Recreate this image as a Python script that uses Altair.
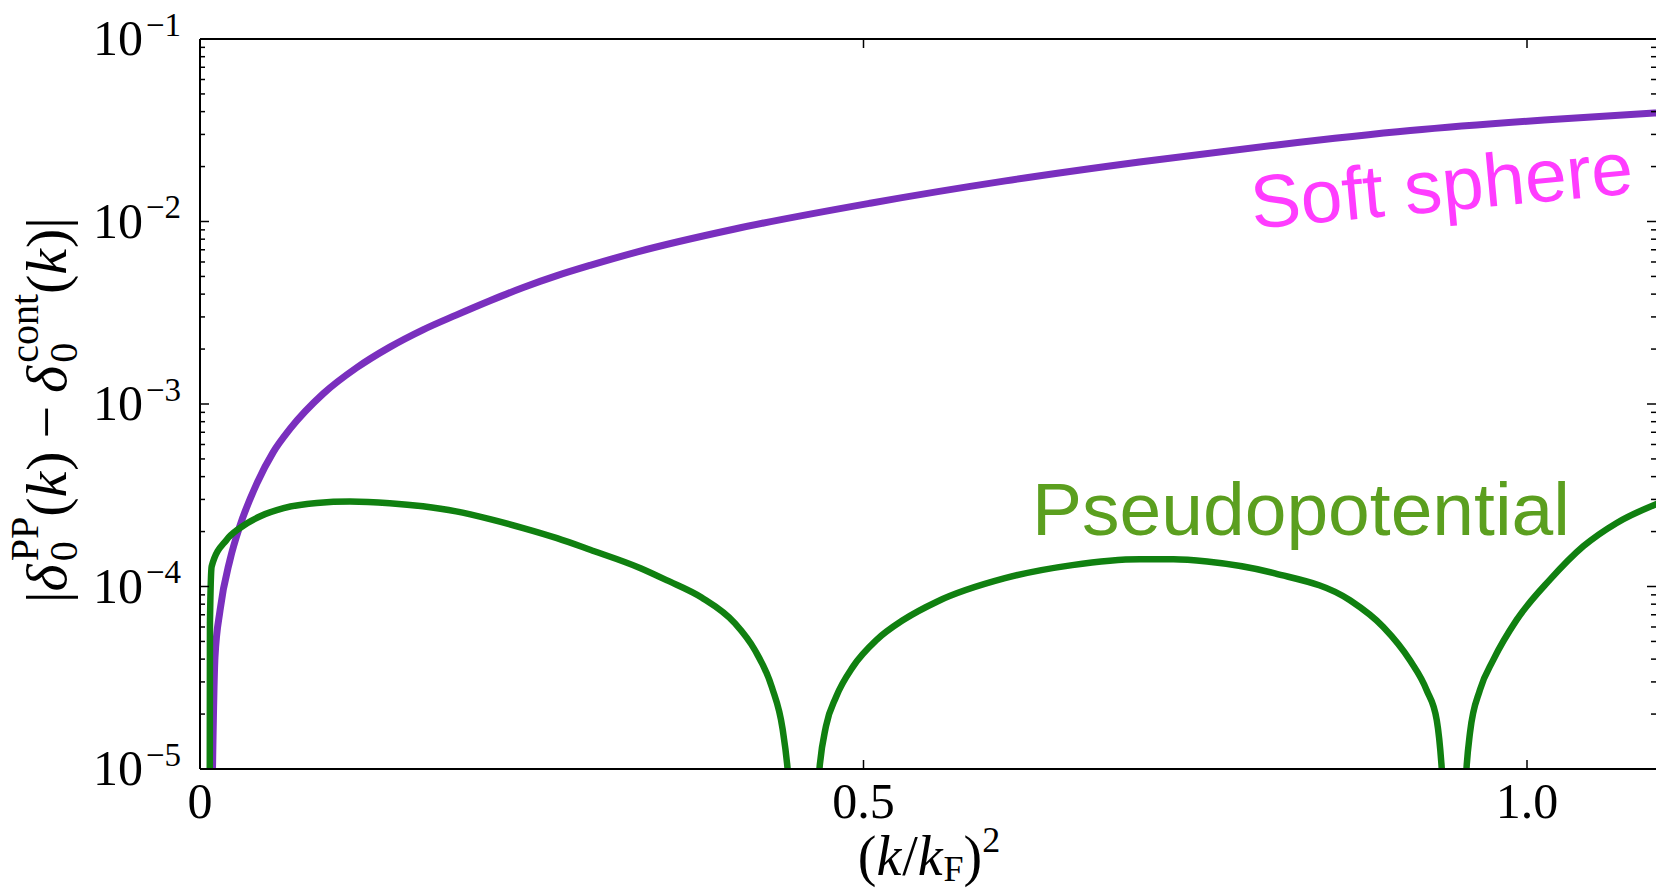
import altair as alt
import pandas as pd

# |delta_0^PP(k) - delta_0^cont(k)| versus (k/k_F)^2

# Soft-sphere curve
soft_x = [0.0080, 0.0113, 0.0151, 0.0226, 0.0301, 0.0427, 0.0552, 0.0678, 0.0929,
          0.118, 0.143, 0.168, 0.193, 0.2185, 0.2436, 0.269, 0.294, 0.329, 0.403,
          0.505, 0.607, 0.708, 0.810, 0.912, 1.013, 1.099]
soft_y = [2.0e-6, 4.1e-5, 7.4e-5, 1.40e-4, 2.15e-4, 3.65e-4, 5.45e-4, 7.3e-4, 1.14e-3,
          1.58e-3, 2.05e-3, 2.55e-3, 3.07e-3, 3.68e-3, 4.35e-3, 5.05e-3, 5.75e-3, 6.8e-3,
          9.1e-3, 1.26e-2, 1.67e-2, 2.12e-2, 2.62e-2, 3.15e-2, 3.60e-2, 3.94e-2]

# Pseudopotential curve (dips to ~0 near the sign changes)
pseudo_x = [0.0072, 0.0075, 0.0088, 0.020, 0.030, 0.045, 0.063, 0.088, 0.113, 0.143,
            0.168, 0.193, 0.2185, 0.2436, 0.269, 0.294, 0.332, 0.352, 0.378, 0.403,
            0.418, 0.431, 0.439, 0.4428, 0.455, 0.4668, 0.4717, 0.4794, 0.4921, 0.5099,
            0.5302, 0.5557, 0.6066, 0.6573, 0.7082, 0.7336, 0.759, 0.810, 0.8666, 0.8917,
            0.9118, 0.9244, 0.9320, 0.9357, 0.946, 0.9545, 0.957, 0.9646, 0.9746, 0.9922,
            1.0173, 1.0424, 1.0676, 1.099]
pseudo_y = [1e-6, 6.3e-5, 1.29e-4, 1.80e-4, 2.09e-4, 2.42e-4, 2.69e-4, 2.87e-4, 2.92e-4, 2.86e-4,
            2.75e-4, 2.58e-4, 2.34e-4, 2.09e-4, 1.84e-4, 1.59e-4, 1.26e-4, 1.08e-4, 8.7e-5, 6.3e-5,
            4.5e-5, 2.8e-5, 1.66e-5, 1.0e-5, 1e-7, 1.0e-5, 1.71e-5, 2.49e-5, 3.64e-5, 5.10e-5,
            6.57e-5, 8.28e-5, 1.11e-4, 1.31e-4, 1.41e-4, 1.41e-4, 1.37e-4, 1.18e-4, 8.4e-5, 6.0e-5,
            3.94e-5, 2.70e-5, 1.85e-5, 1.02e-5, 1e-7, 1.03e-5, 1.57e-5, 2.72e-5, 3.96e-5, 6.56e-5,
            1.09e-4, 1.66e-4, 2.23e-4, 2.86e-4]

# Axes
x_ticks = [0.0, 0.5, 1.0]
x_tick_labels = ["0", "0.5", "1.0"]
y_decades = [1e-5, 1e-4, 1e-3, 1e-2, 1e-1]
y_exponents = ["\u22125", "\u22124", "\u22123", "\u22122", "\u22121"]
y_minor = [m * 10.0 ** e for e in range(-5, -1) for m in range(2, 10)]

# Curve labels
labels = [
    {"x": 0.7935, "y": 9.14e-3, "text": "Soft sphere", "color": "#FF3CFF", "angle": 354.7},
    {"x": 0.627, "y": 1.92e-4, "text": "Pseudopotential", "color": "#5B9F1F", "angle": 0},
]

PURPLE = "#7A2FBE"
GREEN = "#108010"
SERIF = "Liberation Serif"
SANS = "Liberation Sans"

W, H = 1456, 730
PX_PER_UNIT = 1327.0
X_MAX = W / PX_PER_UNIT

xs = alt.Scale(domain=[0, X_MAX], nice=False, zero=False)
ys = alt.Scale(type="log", domain=[1e-5, 1e-1], nice=False)


def X(field):
    return alt.X(field, type="quantitative", scale=xs, axis=None)


def Y(field):
    return alt.Y(field, type="quantitative", scale=ys, axis=None)


soft_df = pd.DataFrame({"x": soft_x, "y": soft_y})
pseudo_df = pd.DataFrame({"x": pseudo_x, "y": pseudo_y})

soft = alt.Chart(soft_df).mark_line(
    color=PURPLE, strokeWidth=7, clip=True, interpolate="monotone"
).encode(x=X("x"), y=Y("y"), order="x:Q")
pseudo = alt.Chart(pseudo_df).mark_line(
    color=GREEN, strokeWidth=6.5, clip=True, interpolate="monotone"
).encode(x=X("x"), y=Y("y"), order="x:Q")

# Frame (left, top, bottom)
one = alt.Data(values=[{}])
frame = [
    alt.Chart(one).mark_rule(color="black", strokeWidth=2).encode(
        x=alt.value(0), y=alt.value(0), y2=alt.value(H)),
    alt.Chart(one).mark_rule(color="black", strokeWidth=2).encode(
        x=alt.value(0), x2=alt.value(W), y=alt.value(0)),
    alt.Chart(one).mark_rule(color="black", strokeWidth=2).encode(
        x=alt.value(0), x2=alt.value(W), y=alt.value(H)),
]

# Inward ticks
dec_df = pd.DataFrame({"v": y_decades, "e": y_exponents})
minor_df = pd.DataFrame({"v": y_minor})
xt_df = pd.DataFrame({"t": x_ticks, "lab": x_tick_labels})

ticks = [
    alt.Chart(dec_df).mark_rule(color="black", strokeWidth=1.5).encode(
        y=Y("v"), x=alt.value(0), x2=alt.value(9)),
    alt.Chart(dec_df).mark_rule(color="black", strokeWidth=1.5).encode(
        y=Y("v"), x=alt.value(W - 9), x2=alt.value(W)),
    alt.Chart(minor_df).mark_rule(color="black", strokeWidth=1.5).encode(
        y=Y("v"), x=alt.value(0), x2=alt.value(5)),
    alt.Chart(minor_df).mark_rule(color="black", strokeWidth=1.5).encode(
        y=Y("v"), x=alt.value(W - 5), x2=alt.value(W)),
    alt.Chart(xt_df).mark_rule(color="black", strokeWidth=1.5).encode(
        x=X("t"), y=alt.value(H - 9), y2=alt.value(H)),
    alt.Chart(xt_df).mark_rule(color="black", strokeWidth=1.5).encode(
        x=X("t"), y=alt.value(0), y2=alt.value(9)),
]

# Tick labels
tick_labels = [
    alt.Chart(dec_df).mark_text(text="10", font=SERIF, fontSize=50, align="right",
                                baseline="alphabetic", dy=16, color="black").encode(
        y=Y("v"), x=alt.value(-57)),
    alt.Chart(dec_df).mark_text(font=SERIF, fontSize=33, align="left",
                                baseline="alphabetic", dy=-3.5, color="black").encode(
        y=Y("v"), x=alt.value(-54), text="e:N"),
    alt.Chart(xt_df).mark_text(font=SERIF, fontSize=50, align="center",
                               baseline="alphabetic", color="black").encode(
        x=X("t"), y=alt.value(779), text="lab:N"),
]


def piece(txt, x, y, size, italic=False, angle=0):
    mark = dict(text=txt, font=SERIF, fontSize=size, align="left",
                baseline="alphabetic", color="black",
                fontStyle="italic" if italic else "normal")
    if angle:
        mark["angle"] = angle
    return alt.Chart(one).mark_text(**mark).encode(x=alt.value(x), y=alt.value(y))


# Y title: |delta_0^PP(k) - delta_0^cont(k)|, reading bottom to top
F, f = 58, 40
SUB, SUP = 11, -28
base_x, start_y = -134, 564
seq = [
    ("|", F, False, 0, 0.20 * F),
    ("\u03b4", F, True, 0, 0.52 * F),
    ("PP", f, False, SUP, 0),
    ("0", f, False, SUB, 1.112 * f),
    ("(", F, False, 0, 0.333 * F),
    ("k", F, True, 0, 0.46 * F),
    (")", F, False, 0, 0.333 * F + 0.222 * F),
    ("\u2212", F, False, 0, 0.564 * F + 0.222 * F),
    ("\u03b4", F, True, 0, 0.52 * F),
    ("cont", f, False, SUP, 0),
    ("0", f, False, SUB, 1.722 * f),
    ("(", F, False, 0, 0.333 * F),
    ("k", F, True, 0, 0.46 * F),
    (")", F, False, 0, 0.333 * F),
    ("|", F, False, 0, 0.20 * F),
]
y_title = []
s = 0.0
for txt, size, ital, shift, adv in seq:
    y_title.append(piece(txt, base_x + shift, start_y - s, size, ital, angle=270))
    s += adv

# X title: (k/k_F)^2
G, g = 56, 36
xseq = [
    ("(", G, False, 0, 0.333 * G),
    ("k", G, True, 0, 0.46 * G),
    ("/", G, False, 0, 0.278 * G),
    ("k", G, True, 0, 0.46 * G),
    ("F", g, False, 6, 0.556 * g),
    (")", G, False, 0, 0.333 * G),
    ("2", g, False, -23, 0.5 * g),
]
total = sum(a for *_, a in xseq)
cx = 729 - total / 2
x_title = []
for txt, size, ital, shift, adv in xseq:
    x_title.append(piece(txt, cx, 836 + shift, size, ital))
    cx += adv

# Curve labels
lab_layers = []
for lab in labels:
    mark = dict(text=lab["text"], font=SANS, fontSize=75, align="left",
                baseline="alphabetic", color=lab["color"])
    if lab["angle"]:
        mark["angle"] = lab["angle"]
    lab_layers.append(
        alt.Chart(pd.DataFrame([lab])).mark_text(**mark).encode(x=X("x"), y=Y("y")))

chart = alt.layer(
    soft, pseudo, *frame, *ticks, *tick_labels, *y_title, *x_title, *lab_layers
).properties(
    width=W, height=H,
    padding={"left": 200, "top": 39, "right": 0, "bottom": 119},
    autosize=alt.AutoSizeParams(type="none"),
    background="white",
).configure_view(stroke=None)

chart.save("out.html", embed_options={"renderer": "svg", "actions": False})
